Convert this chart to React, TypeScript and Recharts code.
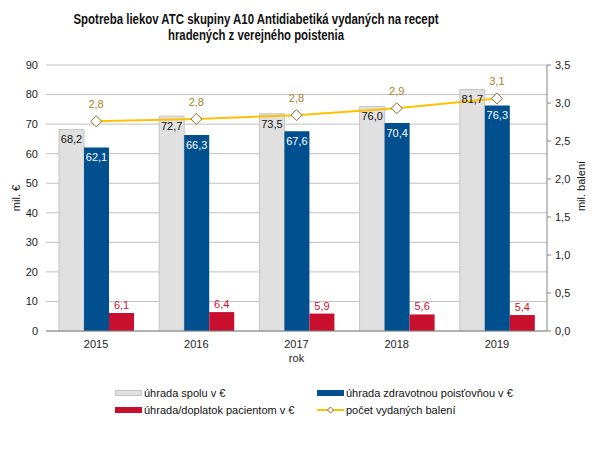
import React from 'react';
import { ComposedChart, Bar, Line, XAxis, YAxis, CartesianGrid, LabelList } from 'recharts';

const years = ['2015', '2016', '2017', '2018', '2019'];
const totalPaid = [68.2, 72.7, 73.5, 76.0, 81.7];
const insurerPaid = [62.1, 66.3, 67.6, 70.4, 76.3];
const patientPaid = [6.1, 6.4, 5.9, 5.6, 5.4];
const packages = [2.76, 2.79, 2.84, 2.93, 3.06];
const leftTicks = [0, 10, 20, 30, 40, 50, 60, 70, 80, 90];
const rightTicks = [0, 0.5, 1, 1.5, 2, 2.5, 3, 3.5];

const data = years.map((y, i) => ({
  year: y,
  total: totalPaid[i],
  insurer: insurerPaid[i],
  patient: patientPaid[i],
  packs: packages[i],
}));

const FONT = '"Liberation Sans", Arial, sans-serif';
const fmt = (v: any) => Number(v).toFixed(1).replace('.', ',');

const GRAY = '#e0e0e0';
const GRAY_STROKE = '#c4c4c4';
const BLUE = '#00508f';
const RED = '#c8102e';
const GOLD = '#ffc000';
const GOLD_DARK = '#8c6d2c';
const GOLD_LABEL = '#a8822a';

const Diamond = (props: any) => {
  const { cx, cy } = props;
  if (cx == null || cy == null) return null;
  const r = 5.5;
  return (
    <path
      key={`d-${cx}`}
      d={`M${cx},${cy - r} L${cx + r},${cy} L${cx},${cy + r} L${cx - r},${cy} Z`}
      fill="#fff"
      stroke={GOLD_DARK}
      strokeWidth={1}
    />
  );
};

const legendItems = [
  { label: 'úhrada spolu v €', kind: 'gray' },
  { label: 'úhrada zdravotnou poisťovňou v €', kind: 'blue' },
  { label: 'úhrada/doplatok pacientom v €', kind: 'red' },
  { label: 'počet vydaných balení', kind: 'line' },
];

const Swatch = ({ kind }: { kind: string }) => {
  if (kind === 'line') {
    return (
      <svg width={27} height={8} style={{ display: 'block' }}>
        <line x1={0} y1={4} x2={27} y2={4} stroke={GOLD} strokeWidth={2} />
        <path d="M13.5,1 L16.5,4 L13.5,7 L10.5,4 Z" fill="#fff" stroke={GOLD_DARK} strokeWidth={1} />
      </svg>
    );
  }
  const fill = kind === 'gray' ? GRAY : kind === 'blue' ? BLUE : RED;
  return (
    <svg width={27} height={8} style={{ display: 'block' }}>
      <rect x={0.5} y={1.5} width={26} height={5} fill={fill} stroke={kind === 'gray' ? GRAY_STROKE : fill} />
    </svg>
  );
};

export default function App() {
  return (
    <div style={{ position: 'absolute', left: 0, top: 0, width: 612, height: 461, background: '#fff', fontFamily: FONT }}>
      <svg width={612} height={50} style={{ position: 'absolute', left: 0, top: 0 }}>
        <text x={256} y={24} textAnchor="middle" fontFamily={FONT} fontWeight="bold" fontSize={14} fill="#111"
          textLength={365} lengthAdjust="spacingAndGlyphs">
          Spotreba liekov ATC skupiny A10 Antidiabetiká vydaných na recept
        </text>
        <text x={256} y={40} textAnchor="middle" fontFamily={FONT} fontWeight="bold" fontSize={14} fill="#111"
          textLength={176} lengthAdjust="spacingAndGlyphs">
          hradených z verejného poistenia
        </text>
      </svg>
      <div style={{ position: 'absolute', left: 0, top: 0 }}>
        <ComposedChart
          width={612}
          height={461}
          data={data}
          margin={{ top: 65, right: 0, bottom: 100, left: 0 }}
          barGap={0}
          barCategoryGap="13%"
        >
          <CartesianGrid vertical={false} stroke="#c0c0c0" yAxisId="left" />
          <XAxis
            dataKey="year"
            height={30}
            tickLine={false}
            axisLine={{ stroke: '#868686' }}
            tick={{ fontSize: 11, fill: '#222', fontFamily: FONT }}
            tickMargin={3}
            label={{
              content: (p: any) => {
                const vb = p.viewBox || {};
                return (
                  <text x={vb.x + vb.width / 2} y={vb.y + 31} textAnchor="middle" fontSize={11} fill="#222" fontFamily={FONT}>
                    rok
                  </text>
                );
              },
            }}
          />
          <YAxis
            yAxisId="left"
            width={46}
            domain={[0, 90]}
            ticks={leftTicks}
            axisLine={false}
            tickLine={false}
            tick={{ fontSize: 11, fill: '#222', fontFamily: FONT }}
            label={{
              content: (p: any) => {
                const vb = p.viewBox || {};
                const x = vb.x + 16;
                const y = vb.y + vb.height / 2;
                return (
                  <text x={x} y={y} textAnchor="middle" dominantBaseline="central" transform={`rotate(-90 ${x} ${y})`} fontSize={11} fill="#111" fontFamily={FONT}>
                    mil. €
                  </text>
                );
              },
            }}
          />
          <YAxis
            yAxisId="right"
            orientation="right"
            width={65}
            domain={[0, 3.5]}
            ticks={rightTicks}
            axisLine={{ stroke: '#868686' }}
            tickLine={{ stroke: '#868686' }}
            tickSize={4}
            tickMargin={4}
            tickFormatter={fmt}
            tick={{ fontSize: 11, fill: '#222', fontFamily: FONT }}
            label={{
              content: (p: any) => {
                const vb = p.viewBox || {};
                const x = vb.x + 34;
                const y = vb.y + vb.height / 2 - 12;
                return (
                  <text x={x} y={y} textAnchor="middle" dominantBaseline="central" transform={`rotate(-90 ${x} ${y})`} fontSize={11} fill="#111" fontFamily={FONT}>
                    mil. balení
                  </text>
                );
              },
            }}
          />
          <Bar yAxisId="left" dataKey="total" fill={GRAY} stroke={GRAY_STROKE} strokeWidth={1} isAnimationActive={false}>
            <LabelList dataKey="total" position="insideTop" offset={6} formatter={fmt} fill="#111" fontSize={11} fontFamily={FONT} />
          </Bar>
          <Bar yAxisId="left" dataKey="insurer" fill={BLUE} isAnimationActive={false}>
            <LabelList dataKey="insurer" position="insideTop" offset={6} formatter={fmt} fill="#fff" fontSize={11} fontFamily={FONT} />
          </Bar>
          <Bar yAxisId="left" dataKey="patient" fill={RED} isAnimationActive={false}>
            <LabelList dataKey="patient" position="top" offset={4} formatter={fmt} fill={RED} fontSize={11} fontFamily={FONT} />
          </Bar>
          <Line
            yAxisId="right"
            dataKey="packs"
            stroke={GOLD}
            strokeWidth={2}
            dot={Diamond}
            activeDot={false}
            isAnimationActive={false}
          >
            <LabelList dataKey="packs" position="top" offset={13} formatter={fmt} fill={GOLD_LABEL} fontSize={11} fontFamily={FONT} />
          </Line>
        </ComposedChart>
      </div>
      <div style={{ position: 'absolute', left: 115, top: 385, width: 480, fontSize: 11, color: '#111', fontFamily: FONT }}>
        {legendItems.map((it, i) => (
          <div
            key={it.label}
            style={{
              position: 'absolute',
              left: i % 2 === 0 ? 0 : 202,
              top: i < 2 ? 0 : 17,
              display: 'flex',
              alignItems: 'center',
              whiteSpace: 'nowrap',
              height: 16,
            }}
          >
            <Swatch kind={it.kind} />
            <span style={{ marginLeft: 2 }}>{it.label}</span>
          </div>
        ))}
      </div>
    </div>
  );
}
